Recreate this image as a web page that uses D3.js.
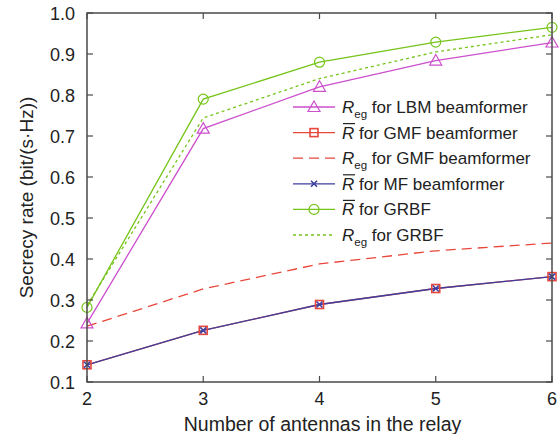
<!DOCTYPE html>
<html><head><meta charset="utf-8">
<script src="https://cdn.jsdelivr.net/npm/d3@7"></script>
<style>body{margin:0;background:#fff}svg{display:block}text{font-family:"Liberation Sans",Arial,sans-serif;fill:#222}</style>
</head><body>
<svg id="c" width="560" height="434"></svg>
<script>
const antennas = [2, 3, 4, 5, 6];
const lbmReg   = [0.243, 0.718, 0.820, 0.884, 0.928];
const gmfRbar  = [0.142, 0.226, 0.289, 0.328, 0.357];
const gmfReg   = [0.236, 0.327, 0.388, 0.420, 0.439];
const mfRbar   = [0.142, 0.226, 0.289, 0.328, 0.357];
const grbfRbar = [0.282, 0.790, 0.880, 0.929, 0.965];
const grbfReg  = [0.287, 0.744, 0.840, 0.905, 0.947];
const yTicks = [0.1, 0.2, 0.3, 0.4, 0.5, 0.6, 0.7, 0.8, 0.9, 1.0];
const xTicks = [2, 3, 4, 5, 6];

const series = [
  {name:"lbm", vals:lbmReg, color:"#cc4fcc", dash:null, marker:"tri", sym:"Reg", label:" for LBM beamformer"},
  {name:"gmf", vals:gmfRbar, color:"#e8473c", dash:null, marker:"sq", sym:"Rbar", label:" for GMF beamformer"},
  {name:"gmfReg", vals:gmfReg, color:"#e8473c", dash:"10,6", marker:null, sym:"Reg", label:" for GMF beamformer"},
  {name:"mf", vals:mfRbar, color:"#3d3f9e", dash:null, marker:"x", sym:"Rbar", label:" for MF beamformer"},
  {name:"grbf", vals:grbfRbar, color:"#76c41a", dash:null, marker:"circ", sym:"Rbar", label:" for GRBF"},
  {name:"grbfReg", vals:grbfReg, color:"#76c41a", dash:"3,3", marker:null, sym:"Reg", label:" for GRBF"}
];

const L=87, R=552, T=13, B=382;
const x = d3.scaleLinear().domain([2,6]).range([L,R]);
const y = d3.scaleLinear().domain([0.1,1.0]).range([B,T]);
const svg = d3.select("#c");
const axCol="#4a4a4a";

const line = d3.line().x((d,i)=>x(antennas[i])).y(d=>y(d));
function drawMarker(g, type, cx, cy, color){
  if(type==="tri"){
    g.append("path").attr("d",`M${cx},${cy-6}L${cx+6},${cy+4.5}L${cx-6},${cy+4.5}Z`).attr("fill","none").attr("stroke",color).attr("stroke-width",1.2);
  } else if(type==="sq"){
    g.append("rect").attr("x",cx-4).attr("y",cy-4).attr("width",8).attr("height",8).attr("fill","none").attr("stroke",color).attr("stroke-width",1.6);
  } else if(type==="x"){
    g.append("path").attr("d",`M${cx-3},${cy-3}L${cx+3},${cy+3}M${cx-3},${cy+3}L${cx+3},${cy-3}`).attr("stroke",color).attr("stroke-width",1.6);
  } else if(type==="circ"){
    g.append("circle").attr("cx",cx).attr("cy",cy).attr("r",5).attr("fill","none").attr("stroke",color).attr("stroke-width",1.2);
  }
}
const plot = svg.append("g");
series.forEach(s=>{
  plot.append("path").datum(s.vals).attr("d",line).attr("fill","none")
    .attr("stroke",s.color).attr("stroke-width",1.3).attr("stroke-dasharray",s.dash);
});
series.forEach(s=>{
  if(s.marker) s.vals.forEach((v,i)=>drawMarker(plot,s.marker,x(antennas[i]),y(v),s.color));
});

const ax = svg.append("g");
ax.append("rect").attr("x",L).attr("y",T).attr("width",R-L).attr("height",B-T).attr("fill","none").attr("stroke",axCol).attr("stroke-width",1.5);
const tl=6;
xTicks.forEach(t=>{
  ax.append("line").attr("x1",x(t)).attr("x2",x(t)).attr("y1",B).attr("y2",B-tl).attr("stroke",axCol).attr("stroke-width",1.2);
  ax.append("line").attr("x1",x(t)).attr("x2",x(t)).attr("y1",T).attr("y2",T+tl).attr("stroke",axCol).attr("stroke-width",1.2);
  ax.append("text").attr("x",x(t)).attr("y",405).attr("text-anchor","middle").attr("font-size",18).text(t);
});
yTicks.forEach(t=>{
  ax.append("line").attr("x1",L).attr("x2",L+tl).attr("y1",y(t)).attr("y2",y(t)).attr("stroke",axCol).attr("stroke-width",1.2);
  ax.append("line").attr("x1",R).attr("x2",R-tl).attr("y1",y(t)).attr("y2",y(t)).attr("stroke",axCol).attr("stroke-width",1.2);
  ax.append("text").attr("x",L-12).attr("y",y(t)+6.5).attr("text-anchor","end").attr("font-size",18).text(t.toFixed(1));
});
svg.append("text").attr("x",(L+R)/2+3).attr("y",431).attr("text-anchor","middle").attr("font-size",19.5).text("Number of antennas in the relay");
svg.append("text").attr("transform",`translate(33,${(T+B)/2}) rotate(-90)`).attr("text-anchor","middle").attr("font-size",19).text("Secrecy rate (bit/(s·Hz))");

const lg = svg.append("g");
const lx0=293, lx1=335, ly0=107, dy=25.6;
series.forEach((s,i)=>{
  const yy = ly0 + i*dy;
  lg.append("line").attr("x1",lx0).attr("x2",lx1).attr("y1",yy).attr("y2",yy).attr("stroke",s.color).attr("stroke-width",1.3).attr("stroke-dasharray",s.dash);
  if(s.marker) drawMarker(lg,s.marker,(lx0+lx1)/2,yy,s.color);
  const t = lg.append("text").attr("x",342).attr("y",yy+6).attr("font-size",17);
  if(s.sym==="Reg"){
    t.append("tspan").attr("font-style","italic").text("R");
    t.append("tspan").attr("font-size",11.5).attr("dy",5).text("eg");
    t.append("tspan").attr("dy",-5).text(s.label);
  } else {
    t.append("tspan").attr("font-style","italic").text("R");
    t.append("tspan").text(s.label);
    lg.append("line").attr("x1",343).attr("x2",355).attr("y1",yy-9).attr("y2",yy-9).attr("stroke","#222").attr("stroke-width",1.2);
  }
});
</script>
</body></html>
